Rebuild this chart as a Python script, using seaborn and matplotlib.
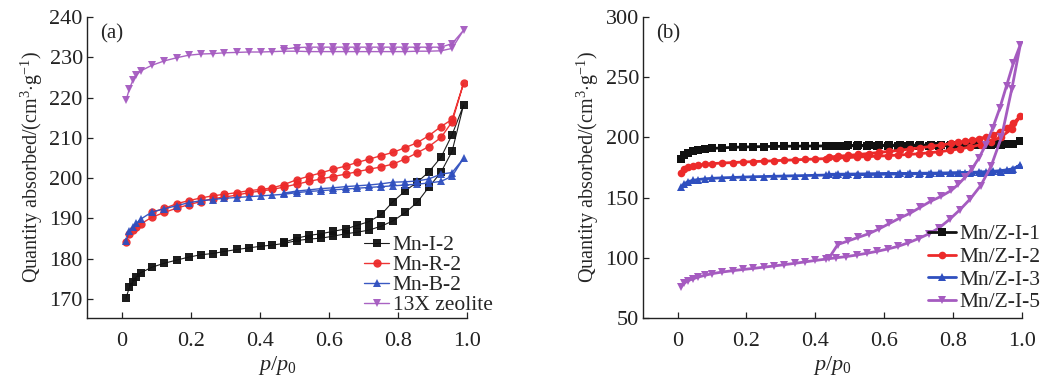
import matplotlib
matplotlib.use("Agg")
import matplotlib.pyplot as plt
import seaborn as sns
import numpy as np
import pandas as pd

# ---------------------------------------------------------------------------
# Data: adsorption branch + desorption branch per sample
# ---------------------------------------------------------------------------

# panel (a): relative pressure grids
PA_ADS = [0.013, 0.023, 0.033, 0.043, 0.055, 0.088, 0.124, 0.161, 0.194, 0.230,
          0.264, 0.297, 0.334, 0.368, 0.403, 0.437, 0.470, 0.507, 0.543, 0.577,
          0.612, 0.649, 0.682, 0.716, 0.752, 0.786, 0.822, 0.856, 0.889, 0.925,
          0.957, 0.990]
PA_DES = [0.957, 0.925, 0.889, 0.856, 0.822, 0.786, 0.752, 0.716, 0.682, 0.649,
          0.612, 0.577, 0.543, 0.507, 0.470, 0.437, 0.403, 0.368, 0.334, 0.297,
          0.264, 0.230, 0.194, 0.161, 0.124, 0.088]

mn_i2_ads = [170.2, 173.0, 174.3, 175.5, 176.5, 177.9, 178.9, 179.7, 180.4, 181.0,
             181.3, 181.8, 182.3, 182.7, 183.1, 183.4, 183.8, 184.5, 184.9, 185.1,
             185.6, 186.2, 186.6, 187.1, 188.1, 189.4, 191.5, 194.0, 197.7, 201.5,
             206.7, 218.1]
mn_i2_des = [210.8, 205.2, 201.5, 199.0, 196.9, 194.2, 191.0, 189.2, 188.3, 187.4,
             186.8, 186.2, 185.8, 185.1, 184.1]

mn_r2_ads = [184.1, 186.2, 187.1, 187.8, 188.6, 190.3, 191.5, 192.6, 193.4, 194.2,
             194.9, 195.3, 195.8, 196.4, 196.8, 197.2, 197.8, 198.5, 199.2, 199.8,
             200.4, 201.0, 201.6, 202.2, 202.8, 203.5, 204.8, 206.3, 207.8, 210.1,
             214.0, 223.5]
mn_r2_des = [214.6, 212.8, 210.5, 208.8, 207.6, 206.4, 205.6, 204.7, 203.9, 203.0,
             202.2, 201.3, 200.5, 199.6, 198.4, 197.6, 197.2, 196.9, 196.4, 196.0,
             195.6, 195.1, 194.4, 193.7, 192.5, 191.5]

mn_b2_ads = [184.5, 186.9, 187.8, 188.8, 189.8, 191.6, 192.4, 193.2, 193.9, 194.4,
             194.7, 195.0, 195.2, 195.4, 195.6, 195.8, 196.0, 196.4, 196.7, 196.9,
             197.1, 197.3, 197.5, 197.7, 197.9, 198.1, 198.3, 198.5, 198.8, 199.2,
             200.5, 204.9]
mn_b2_des = [201.4, 201.0, 199.8, 199.3, 199.1, 199.0, 198.6, 198.3, 198.1, 197.9,
             197.6, 197.4, 197.1, 196.8, 196.3]

zeo_ads = [219.3, 222.2, 224.3, 225.5, 226.6, 228.0, 229.1, 229.9, 230.5, 230.8,
           230.9, 231.1, 231.2, 231.3, 231.3, 231.4, 231.5, 231.5, 231.4, 231.4,
           231.4, 231.4, 231.4, 231.4, 231.4, 231.4, 231.4, 231.5, 231.5, 231.6,
           232.2, 236.7]
zeo_des = [233.4, 232.5, 232.5, 232.5, 232.5, 232.5, 232.5, 232.5, 232.5, 232.5,
           232.5, 232.5, 232.5, 232.4, 232.0]

# panel (b): relative pressure grids
PB_ADS = [0.01, 0.02, 0.03, 0.045, 0.06, 0.08, 0.10, 0.13, 0.16, 0.19, 0.22, 0.25,
          0.28, 0.31, 0.34, 0.37, 0.40, 0.43, 0.46, 0.49, 0.52, 0.55, 0.58, 0.61,
          0.64, 0.67, 0.70, 0.73, 0.76, 0.79, 0.82, 0.85, 0.88, 0.91, 0.94, 0.97,
          0.995]
PB_DES = [0.975, 0.955, 0.935, 0.915, 0.895, 0.875, 0.855, 0.835, 0.815, 0.795,
          0.765, 0.735, 0.705, 0.675, 0.645, 0.615, 0.585, 0.555, 0.525, 0.495,
          0.465, 0.44]

z1_ads = [182.0, 185.0, 187.0, 188.3, 189.3, 190.2, 190.8, 191.3, 191.7, 192.0,
          192.2, 192.4, 192.5, 192.6, 192.7, 192.8, 192.8, 192.9, 192.9, 193.0,
          193.0, 193.0, 193.1, 193.1, 193.1, 193.1, 193.2, 193.2, 193.2, 193.2,
          193.2, 193.3, 193.3, 193.4, 193.6, 194.2, 197.2]
z1_des = [194.5, 194.3, 194.2, 194.1, 194.0, 194.0, 193.9, 193.9, 193.8, 193.8,
          193.7, 193.7, 193.6, 193.6, 193.5, 193.5, 193.4, 193.4, 193.3, 193.3,
          193.2, 193.1]

z2_ads = [170.2, 173.5, 175.0, 176.2, 177.0, 177.7, 178.2, 178.7, 179.1, 179.5,
          179.9, 180.2, 180.6, 181.0, 181.3, 181.7, 182.0, 182.4, 182.8, 183.2,
          183.6, 184.0, 184.4, 184.8, 185.3, 185.8, 186.4, 187.2, 188.1, 189.2,
          190.5, 192.0, 194.0, 196.5, 200.5, 207.0, 217.7]
z2_des = [212.0, 207.5, 204.5, 202.0, 200.3, 199.0, 197.8, 196.8, 195.9, 195.0,
          193.7, 192.5, 191.4, 190.3, 189.3, 188.4, 187.5, 186.6, 185.8, 185.0,
          184.3, 183.6]

z3_ads = [158.6, 161.5, 163.3, 164.3, 165.0, 165.6, 166.0, 166.4, 166.7, 167.0,
          167.3, 167.5, 167.7, 167.9, 168.1, 168.3, 168.5, 168.7, 168.8, 169.0,
          169.1, 169.3, 169.4, 169.5, 169.6, 169.7, 169.8, 169.9, 170.0, 170.1,
          170.2, 170.4, 170.6, 170.9, 171.5, 172.8, 177.1]
z3_des = [174.0, 173.0, 172.3, 171.8, 171.5, 171.2, 171.0, 170.8, 170.7, 170.6,
          170.4, 170.3, 170.2, 170.1, 170.0, 169.9, 169.8, 169.7, 169.6, 169.5,
          169.4, 169.3]

z5_ads = [76.0, 79.0, 81.0, 82.5, 84.0, 85.5, 86.8, 88.2, 89.3, 90.3, 91.2, 92.2,
          93.2, 94.3, 95.4, 96.6, 97.8, 98.9, 100.0, 101.0, 102.3, 103.8, 105.4,
          107.3, 109.5, 112.5, 116.0, 120.0, 125.0, 132.0, 140.0, 149.0, 160.0,
          176.0, 200.0, 240.0, 277.0]
z5_des = [262.0, 243.0, 224.0, 208.0, 194.0, 183.0, 174.0, 167.0, 161.0, 156.0,
          151.0, 147.0, 142.0, 137.0, 133.0, 128.5, 124.0, 120.0, 117.0, 114.0,
          111.0, 100.0]

LABELS_A = ["Mn-I-2", "Mn-R-2", "Mn-B-2", "13X zeolite"]
LABELS_B = ["Mn/Z-I-1", "Mn/Z-I-2", "Mn/Z-I-3", "Mn/Z-I-5"]
COLORS = ["#111111", "#ec2a2a", "#2f4fbf", "#a55bc0"]
MARKERS = ["s", "o", "^", "v"]


def loop_frame(p_ads, p_des, ads, des):
    """Adsorption branch followed by desorption branch, as one path."""
    p = list(p_ads[:len(ads)]) + list(p_des[:len(des)])
    q = list(ads) + list(des)
    return pd.DataFrame({"p": p, "q": q})


sns.set_theme(style="ticks")
plt.rcParams["font.family"] = ["Liberation Serif", "DejaVu Serif"]
plt.rcParams["mathtext.fontset"] = "custom"
plt.rcParams["mathtext.rm"] = "Liberation Serif"
plt.rcParams["mathtext.it"] = "Liberation Serif:italic"

fig = plt.figure(figsize=(10.44, 3.85), dpi=100)
ax_a = fig.add_axes([0.0833, 0.174, 0.364, 0.782])
ax_b = fig.add_axes([0.616, 0.174, 0.363, 0.782])

series_a = [(mn_i2_ads, mn_i2_des), (mn_r2_ads, mn_r2_des),
            (mn_b2_ads, mn_b2_des), (zeo_ads, zeo_des)]
series_b = [(z1_ads, z1_des), (z2_ads, z2_des), (z3_ads, z3_des), (z5_ads, z5_des)]

for (ads, des), lab, col, mk in zip(series_a, LABELS_A, COLORS, MARKERS):
    df = loop_frame(PA_ADS, PA_DES, ads, des)
    lw = 0.8 if col == "#111111" else 1.0
    sns.lineplot(data=df, x="p", y="q", sort=False, estimator=None, ax=ax_a,
                 color=col, marker=mk, markersize=6, markeredgewidth=0,
                 linewidth=lw, alpha=0.95, label=lab)

for (ads, des), lab, col, mk in zip(series_b, LABELS_B, COLORS, MARKERS):
    df = loop_frame(PB_ADS, PB_DES, ads, des)
    sns.lineplot(data=df, x="p", y="q", sort=False, estimator=None, ax=ax_b,
                 color=col, marker=mk, markersize=5.5, markeredgewidth=0,
                 linewidth=2.0, label=lab)

ylabel = r"Quantity absorbed/(cm$^{3}$$\cdot$g$^{-1}$)"
xlabel = r"$p/p_{\mathrm{0}}$"

for ax, ylim, yticks, tag in [(ax_a, (165.3, 240), np.arange(170, 241, 10), "(a)"),
                              (ax_b, (50, 300), np.arange(50, 301, 50), "(b)")]:
    ax.set_xlim(-0.1, 1.0)
    ax.set_ylim(*ylim)
    ax.set_xticks([0, 0.2, 0.4, 0.6, 0.8, 1.0])
    ax.set_xticklabels(["0", "0.2", "0.4", "0.6", "0.8", "1.0"])
    ax.set_yticks(yticks)
    ax.tick_params(direction="in", length=4, width=0.9, labelsize=16,
                   colors="#222222")
    ax.tick_params(axis="x", pad=10)
    ax.tick_params(axis="y", pad=3)
    for s in ["top", "right"]:
        ax.spines[s].set_visible(False)
    for s in ["left", "bottom"]:
        ax.spines[s].set_linewidth(1.0)
        ax.spines[s].set_color("#222222")
    ax.set_xlabel(xlabel, fontsize=16, labelpad=2)
    ax.set_ylabel(ylabel, fontsize=14.5, labelpad=3)
    ax.text(0.035, 0.945, tag, transform=ax.transAxes, fontsize=15,
            ha="left", va="center")

ax_a.legend(loc="lower right", bbox_to_anchor=(1.09, -0.02), frameon=False,
            fontsize=15.5, handlelength=1.2, handletextpad=0.15,
            labelspacing=0.0, borderaxespad=0.0)
ax_b.legend(loc="lower right", bbox_to_anchor=(1.07, -0.01), frameon=False,
            fontsize=15.5, handlelength=1.3, handletextpad=0.15,
            labelspacing=0.12, borderaxespad=0.0)

fig.savefig("out.png", dpi=100)
